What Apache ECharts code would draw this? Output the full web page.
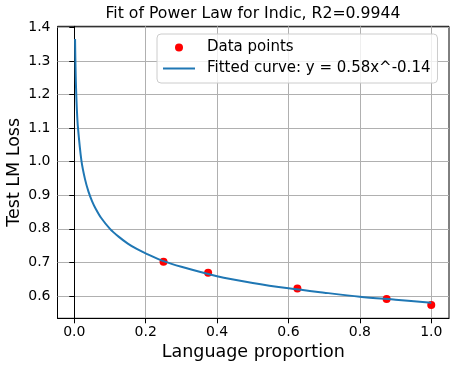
<!DOCTYPE html>
<html>
<head>
<meta charset="utf-8">
<script src="https://cdn.jsdelivr.net/npm/echarts@6/dist/echarts.min.js"></script>
<style>
  html, body { margin: 0; padding: 0; background: #fff; }
  #main { width: 457px; height: 368px; }
</style>
</head>
<body>
<div id="main"></div>
<script>
// measured data points
var pointX = [0.25, 0.375, 0.625, 0.875, 1.0];
var pointY = [0.702, 0.669, 0.622, 0.591, 0.573];

// fitted curve
var curveX = [0.0022, 0.003, 0.004, 0.005, 0.007, 0.01, 0.02, 0.03, 0.04, 0.05, 0.06, 0.075, 0.1, 0.125, 0.15, 0.175, 0.2, 0.25, 0.3, 0.4, 0.5, 0.6, 0.7, 0.8, 0.9, 1.0];
var curveY = [1.365, 1.308, 1.256, 1.218, 1.162, 1.105, 1.003, 0.948, 0.910, 0.882, 0.860, 0.833, 0.800, 0.776, 0.756, 0.740, 0.727, 0.704, 0.687, 0.659, 0.639, 0.623, 0.610, 0.598, 0.589, 0.580];

var font = 'DejaVu Sans';
var chart = echarts.init(document.getElementById('main'));

chart.setOption({
  animation: false,
  title: {
    text: 'Fit of Power Law for Indic, R2=0.9944',
    left: 253,
    top: 6,
    textAlign: 'center',
    padding: 0,
    textStyle: { fontFamily: font, fontSize: 15.7, fontWeight: 'normal', color: '#000' }
  },
  legend: {
    orient: 'vertical',
    left: 157,
    top: 34,
    padding: [6, 7, 7, 6],
    itemWidth: 32,
    itemHeight: 8,
    itemGap: 6,
    backgroundColor: 'rgba(255,255,255,0.8)',
    borderColor: '#cccccc',
    borderWidth: 1,
    borderRadius: 4,
    textStyle: { fontFamily: font, fontSize: 15, color: '#000', lineHeight: 15, padding: [0, 0, 0, 7] },
    data: [
      { name: 'Data points', icon: 'circle' },
      { name: 'Fitted curve: y = 0.58x^-0.14', icon: 'path://M0 0 M0 3 L32 3 L32 5 L0 5 Z M32 8' }
    ]
  },
  grid: {
    left: 57.5, right: 8, top: 26.3, bottom: 49.7,
    outerBoundsMode: 'none',
    show: true, borderColor: '#000', borderWidth: 1
  },
  xAxis: {
    type: 'value',
    min: -0.047,
    max: 1.0497,
    minInterval: 0.2,
    maxInterval: 0.2,
    name: 'Language proportion',
    nameLocation: 'middle',
    nameGap: 25,
    nameMoveOverlap: false,
    nameTextStyle: { fontFamily: font, fontSize: 17.5, color: '#000', verticalAlign: 'top' },
    axisLine: { lineStyle: { color: '#000', width: 1 } },
    axisTick: { length: 5, lineStyle: { color: '#000' } },
    axisLabel: {
      showMinLabel: false, showMaxLabel: false, margin: 7,
      fontFamily: font, fontSize: 14, color: '#000',
      formatter: function (v) { return v.toFixed(1); }
    },
    splitLine: { show: true, showMinLine: false, showMaxLine: false, lineStyle: { color: '#b0b0b0', width: 1 } }
  },
  yAxis: {
    type: 'value',
    min: 0.5336,
    max: 1.403,
    minInterval: 0.1,
    maxInterval: 0.1,
    name: 'Test LM Loss',
    nameLocation: 'middle',
    nameGap: 34,
    nameMoveOverlap: false,
    nameTextStyle: { fontFamily: font, fontSize: 17.5, color: '#000' },
    axisLine: { show: true, lineStyle: { color: '#000', width: 1 } },
    axisTick: { show: true, length: 5, lineStyle: { color: '#000' } },
    axisLabel: {
      showMinLabel: false, showMaxLabel: false, margin: 7,
      fontFamily: font, fontSize: 14, color: '#000',
      formatter: function (v) { return v.toFixed(1); }
    },
    splitLine: { show: true, showMinLine: false, showMaxLine: false, lineStyle: { color: '#b0b0b0', width: 1 } }
  },
  series: [
    {
      name: 'Data points',
      type: 'scatter',
      symbolSize: 8,
      itemStyle: { color: '#ff0000', opacity: 1 },
      z: 3,
      data: pointX.map(function (x, i) { return [x, pointY[i]]; })
    },
    {
      name: 'Fitted curve: y = 0.58x^-0.14',
      type: 'line',
      symbol: 'none',
      smooth: 0.3,
      lineStyle: { color: '#1f77b4', width: 2 },
      itemStyle: { color: '#1f77b4' },
      z: 4,
      data: curveX.map(function (x, i) { return [x, curveY[i]]; })
    }
  ]
});
</script>
</body>
</html>
